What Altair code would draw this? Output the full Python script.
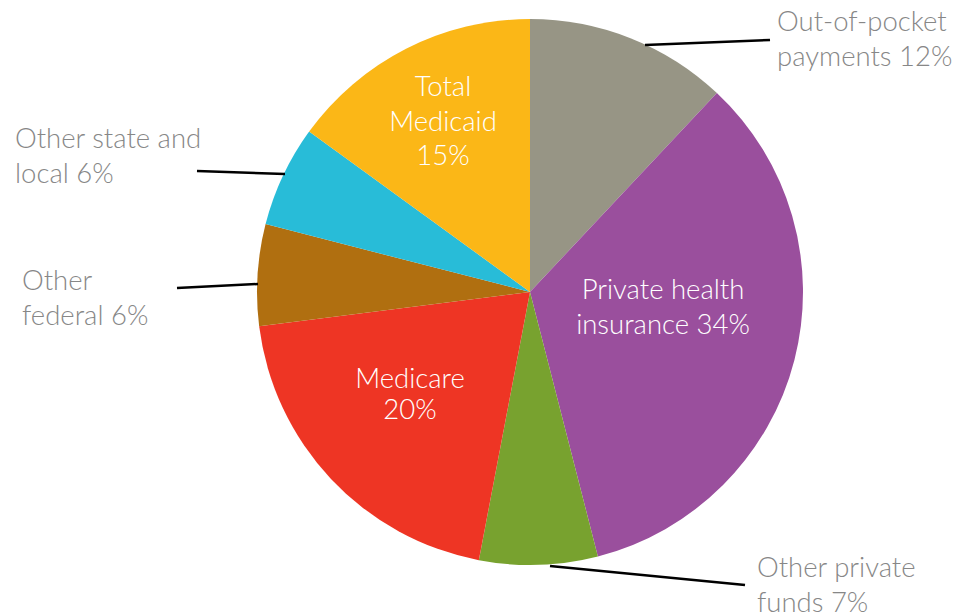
import altair as alt
import pandas as pd

categories = ["Out-of-pocket payments", "Private health insurance", "Other private funds",
              "Medicare", "Other federal", "Other state and local", "Total Medicaid"]
values = [12, 34, 7, 20, 6, 6, 15]
colors = ["#979585", "#9a4f9d", "#78a22f", "#ee3524", "#b06f10", "#28bcd8", "#fbb717"]

df = pd.DataFrame({"category": categories, "value": values, "order": list(range(len(values)))})

CX, CY, R = 522, 284, 273
FONT = "Lato"

pie = alt.Chart(df).mark_arc(outerRadius=R).encode(
    theta=alt.Theta("value:Q", stack=True),
    order=alt.Order("order:Q"),
    color=alt.Color("category:N", scale=alt.Scale(domain=categories, range=colors), legend=None),
    x=alt.value(CX),
    y=alt.value(CY),
)

v = dict(zip(categories, values))

def label(lines, x, y, align, color, lh=35):
    return alt.Chart(pd.DataFrame({"a": [0]})).mark_text(
        text=lines, align=align, baseline="middle", font=FONT, fontSize=27.5,
        fontWeight=300, color=color, lineHeight=lh,
    ).encode(x=alt.value(x), y=alt.value(y))

def leader(x1, y1, x2, y2):
    return alt.Chart(pd.DataFrame({"a": [0]})).mark_rule(color="black", strokeWidth=2.5).encode(
        x=alt.value(x1), y=alt.value(y1), x2=alt.value(x2), y2=alt.value(y2))

gray = "#878787"
layers = [
    pie,
    leader(637, 37, 762, 32),
    leader(542, 558, 737, 577),
    leader(169, 280, 250, 276),
    leader(189, 163, 277, 166),
    label(["Out-of-pocket", f"payments {v['Out-of-pocket payments']}%"], 769, 15, "left", gray),
    label(["Other private", f"funds {v['Other private funds']}%"], 749, 561, "left", gray),
    label(["Other", f"federal {v['Other federal']}%"], 14, 274, "left", gray),
    label(["Other state and", f"local {v['Other state and local']}%"], 7, 132, "left", gray),
    label(["Total", "Medicaid", f"{v['Total Medicaid']}%"], 435, 80, "center", "white", lh=34.5),
    label(["Private health", f"insurance {v['Private health insurance']}%"], 655, 283, "center", "white"),
    label(["Medicare", f"{v['Medicare']}%"], 402, 372, "center", "white", lh=31),
]

chart = alt.layer(*layers).properties(
    width=948, height=608, autosize=alt.AutoSizeParams(type="none"), padding=0
).configure_view(stroke=None)

chart.save("out.html", embed_options={"renderer": "svg", "actions": False})
